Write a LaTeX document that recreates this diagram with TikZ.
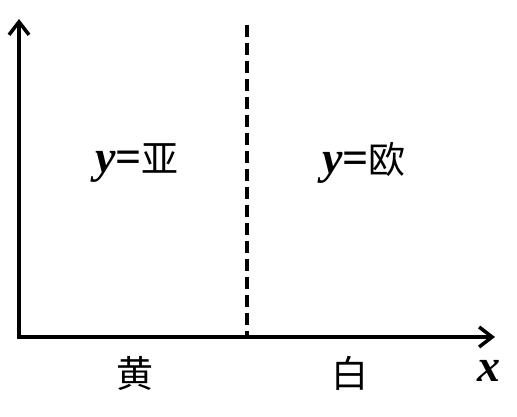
\documentclass[tikz,border=0pt]{standalone}
\usepackage{fontspec}
\setmainfont{Liberation Serif}
\newfontfamily\cjk{Noto Sans CJK SC}
\usetikzlibrary{arrows.meta}
\newcommand{\latinsz}{\fontsize{46}{50}\selectfont}
\newcommand{\cjksz}{\fontsize{37}{40}\selectfont}

\begin{document}
\begin{tikzpicture}[x=1pt,y=1pt,line width=4pt,
  axis/.style={-{Straight Barb[length=13pt,width=20pt,line width=3.5pt]}},
  divide/.style={dash pattern=on 12pt off 6pt},
  region/.style={inner sep=0pt,anchor=center},
  tick/.style={inner sep=0pt,anchor=center}]
\useasboundingbox (0,0) rectangle (517,417);
\coordinate (O) at (19,80);
\coordinate (Ytip) at (19,398);
\coordinate (Xtip) at (495,80);
\coordinate (Dtop) at (247,392);
\coordinate (Dbot) at (247,80);
\draw[axis] (O) -- (Ytip);
\draw[axis] ([xshift=-2pt]O) -- (Xtip);
\draw[divide] (Dtop) -- (Dbot);
% region labels
\node[region] (asia) at (137,254) {\latinsz\bfseries\itshape y\upshape=\cjksz\mdseries\cjk 亚};
\node[region] (euro) at (364,254) {\latinsz\bfseries\itshape y\upshape=\cjksz\mdseries\cjk 欧};
\node[tick] (yellow) at (135,44) {\cjksz\cjk 黄};
\node[tick] (white) at (350,44) {\cjksz\cjk 白};
\node[tick] (xlab) at (489,46) {\latinsz\bfseries\itshape x};
\end{tikzpicture}
\end{document}
